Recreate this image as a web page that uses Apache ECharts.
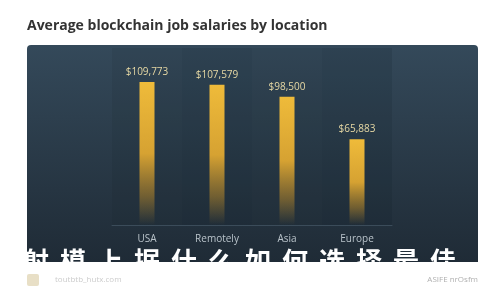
<!DOCTYPE html>
<html><head><meta charset="utf-8">
<script src="https://cdn.jsdelivr.net/npm/echarts@6/dist/echarts.min.js"></script>
<style>html,body{margin:0;padding:0;background:#fff}#c{width:500px;height:300px}</style>
</head><body><div id="c"></div>
<script>
const titleText = 'Average blockchain job salaries by location';
const categories = ['USA', 'Remotely', 'Asia', 'Europe'];
const salaries = [109773, 107579, 98500, 65883];
const watermark = '的射模上据什么如何选择最佳';

const wmChars = watermark.split('').map((ch, i) => ({
  type: 'text', z: 100, left: -14 + i * 37, top: 248,
  style: {text: ch, fill: '#ffffff', font: 'bold 26px "Noto Sans CJK SC"'}
}));

const chart = echarts.init(document.getElementById('c'), null, {renderer: 'canvas'});
chart.setOption({
  backgroundColor: '#ffffff',
  animation: false,
  title: {
    text: titleText, left: 22, top: 14,
    textStyle: {fontFamily: 'Open Sans', fontWeight: 'bold', fontSize: 14, color: '#333333'}
  },
  graphic: [
    {type: 'rect', z: -10, shape: {x: 27, y: 45, width: 451, height: 217, r: [4, 4, 0, 0]},
     style: {fill: new echarts.graphic.LinearGradient(0, 0, 0, 1, [
       {offset: 0, color: '#34495a'}, {offset: 1, color: '#1f2b36'}])}},
    {type: 'text', left: 55, top: 276,
     style: {text: 'toutbtb_hutx.com', fill: '#cccccc', font: '8px "Open Sans"'}},
    {type: 'rect', shape: {x: 27, y: 274, width: 12, height: 12, r: 2},
     style: {fill: '#e8dfc6'}},
    {type: 'text', right: 22, top: 276,
     style: {text: 'ASIFE nrOsfm', fill: '#b0b0b0', font: '8px "Open Sans"'}}
  ].concat(wmChars),
  grid: {left: 112, right: 108, top: 48, bottom: 75},
  xAxis: {
    type: 'category', data: categories,
    axisLine: {show: true, lineStyle: {color: '#3b4c5a', width: 1}},
    axisTick: {show: false},
    splitArea: {show: true, areaStyle: {color: ['rgba(10,20,28,0.08)', 'rgba(10,20,28,0.13)']}},
    axisLabel: {color: '#b9c3ca', fontFamily: 'Open Sans', fontSize: 10, margin: 9}
  },
  yAxis: {type: 'value', min: 0, max: 135870, show: false, splitLine: {show: false}},
  series: [{
    type: 'bar', data: salaries, barWidth: 15,
    itemStyle: {color: new echarts.graphic.LinearGradient(0, 0, 0, 1, [
      {offset: 0, color: '#efbb3a'}, {offset: 0.5, color: '#d6a232'},
      {offset: 0.8, color: 'rgba(190,140,40,0.5)'}, {offset: 1, color: 'rgba(190,140,40,0)'}])},
    label: {
      show: true, position: 'top', distance: 5,
      color: '#e6d8a4', fontFamily: 'Open Sans', fontSize: 10,
      formatter: p => '$' + p.value.toLocaleString('en-US')
    }
  }]
});
</script></body></html>
